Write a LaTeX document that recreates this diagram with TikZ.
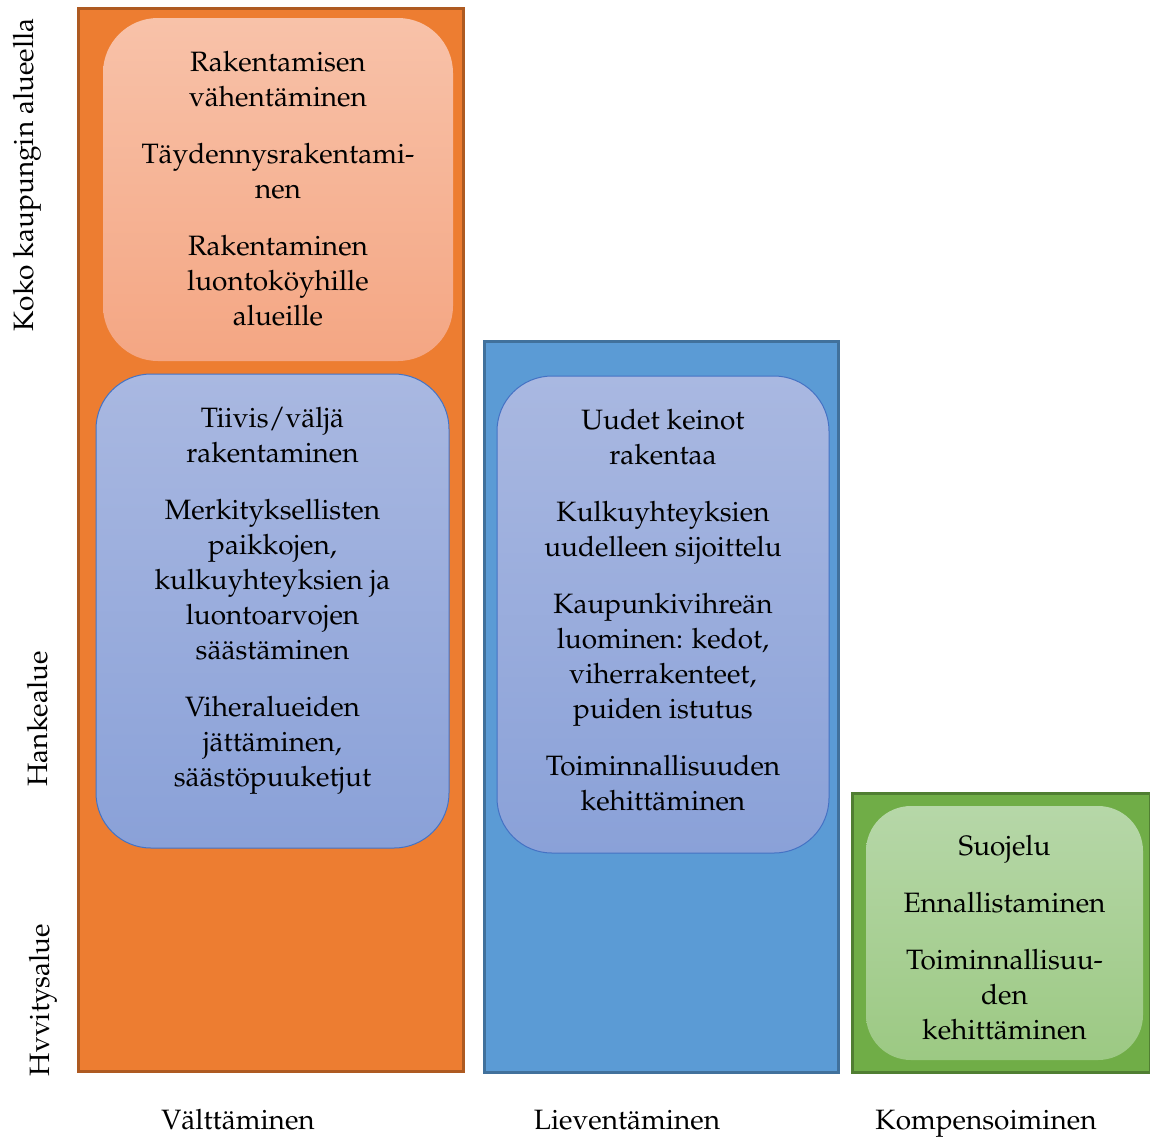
\documentclass[tikz,border=0pt]{standalone}
\usepackage[T1]{fontenc}
\usepackage{mathpazo}
\usetikzlibrary{positioning}

\definecolor{avoidfill}{HTML}{ED7D31}
\definecolor{avoidedge}{HTML}{AE5A21}
\definecolor{easefill}{HTML}{5B9BD5}
\definecolor{easeedge}{HTML}{41719C}
\definecolor{compfill}{HTML}{70AD47}
\definecolor{compedge}{HTML}{507E32}
\definecolor{salmontop}{HTML}{F8C2A9}
\definecolor{salmonbot}{HTML}{F4A683}
\definecolor{lilactop}{HTML}{A9B8E1}
\definecolor{lilacbot}{HTML}{8AA1D8}
\definecolor{lilacedge}{HTML}{4472C4}
\definecolor{mosstop}{HTML}{B6D7A8}
\definecolor{mossbot}{HTML}{9CC983}

\begin{document}
\begin{tikzpicture}[
        x=1pt, y=-1pt,
        every node/.style={font=\fontsize{28}{35}\selectfont},
        column/.style={draw, line width=3pt, inner sep=0pt},
        card/.style={rounded corners=55pt, inner sep=0pt},
        words/.style={align=center, inner sep=0pt},
        side/.style={rotate=90, anchor=base},
        foot/.style={anchor=base}]

    \useasboundingbox (0,0) rectangle (1150,1138);

    % columns
    \node [column, fill=avoidfill, draw=avoidedge,
           minimum width=385pt, minimum height=1063pt] (avoid) at (270.5,539.5) {};
    \node [column, fill=easefill, draw=easeedge,
           minimum width=354pt, minimum height=731pt]  (ease)  at (661,706.5) {};
    \node [column, fill=compfill, draw=compedge,
           minimum width=298pt, minimum height=279pt]  (comp)  at (1001,932.5) {};

    % rounded cards
    \node [card, top color=salmontop, bottom color=salmonbot,
           minimum width=350pt, minimum height=343pt] (citycard) at (278,189.5) {};
    \node [card, top color=lilactop, bottom color=lilacbot, draw=lilacedge, line width=1pt,
           minimum width=353pt, minimum height=474pt] (sitecard) at (272.5,611) {};
    \node [card, top color=lilactop, bottom color=lilacbot, draw=lilacedge, line width=1pt,
           minimum width=332pt, minimum height=477pt] (easecard) at (663,614.5) {};
    \node [card, rounded corners=45pt, top color=mosstop, bottom color=mossbot,
           minimum width=277pt, minimum height=254pt] (compcard) at (1004.5,933) {};

    % card texts
    \node [words] (citytext) at (278,189)
        {Rakentamisen\\v\"ahent\"aminen\\[22pt]
         T\"aydennysrakentami-\\nen\\[22pt]
         Rakentaminen\\luontok\"oyhille\\alueille};
    \node [words] (sitetext) at (272.5,601)
        {Tiivis/v\"alj\"a\\rakentaminen\\[22pt]
         Merkityksellisten\\paikkojen,\\kulkuyhteyksien ja\\luontoarvojen\\s\"a\"ast\"aminen\\[22pt]
         Viheralueiden\\j\"att\"aminen,\\s\"a\"ast\"opuuketjut};
    \node [words] (easetext) at (663,610)
        {Uudet keinot\\rakentaa\\[22pt]
         Kulkuyhteyksien\\uudelleen sijoittelu\\[22pt]
         Kaupunkivihre\"an\\luominen: kedot,\\viherrakenteet,\\puiden istutus\\[22pt]
         Toiminnallisuuden\\kehitt\"aminen};
    \node [words] (comptext) at (1004.5,938)
        {Suojelu\\[22pt]
         Ennallistaminen\\[22pt]
         Toiminnallisuu-\\den\\kehitt\"aminen};

    % axis labels
    \node [side] (cityaxis) at (33,175)  {Koko kaupungin alueella};
    \node [side] (siteaxis) at (47,719)  {Hankealue};
    \node [side] (compaxis) at (49,1000) {Hvvitysalue};

    \node [foot] (avoidname) at (238,1129) {V\"altt\"aminen};
    \node [foot] (easename)  at (627,1129) {Lievent\"aminen};
    \node [foot] (compname)  at (986,1129) {Kompensoiminen};
\end{tikzpicture}
\end{document}
